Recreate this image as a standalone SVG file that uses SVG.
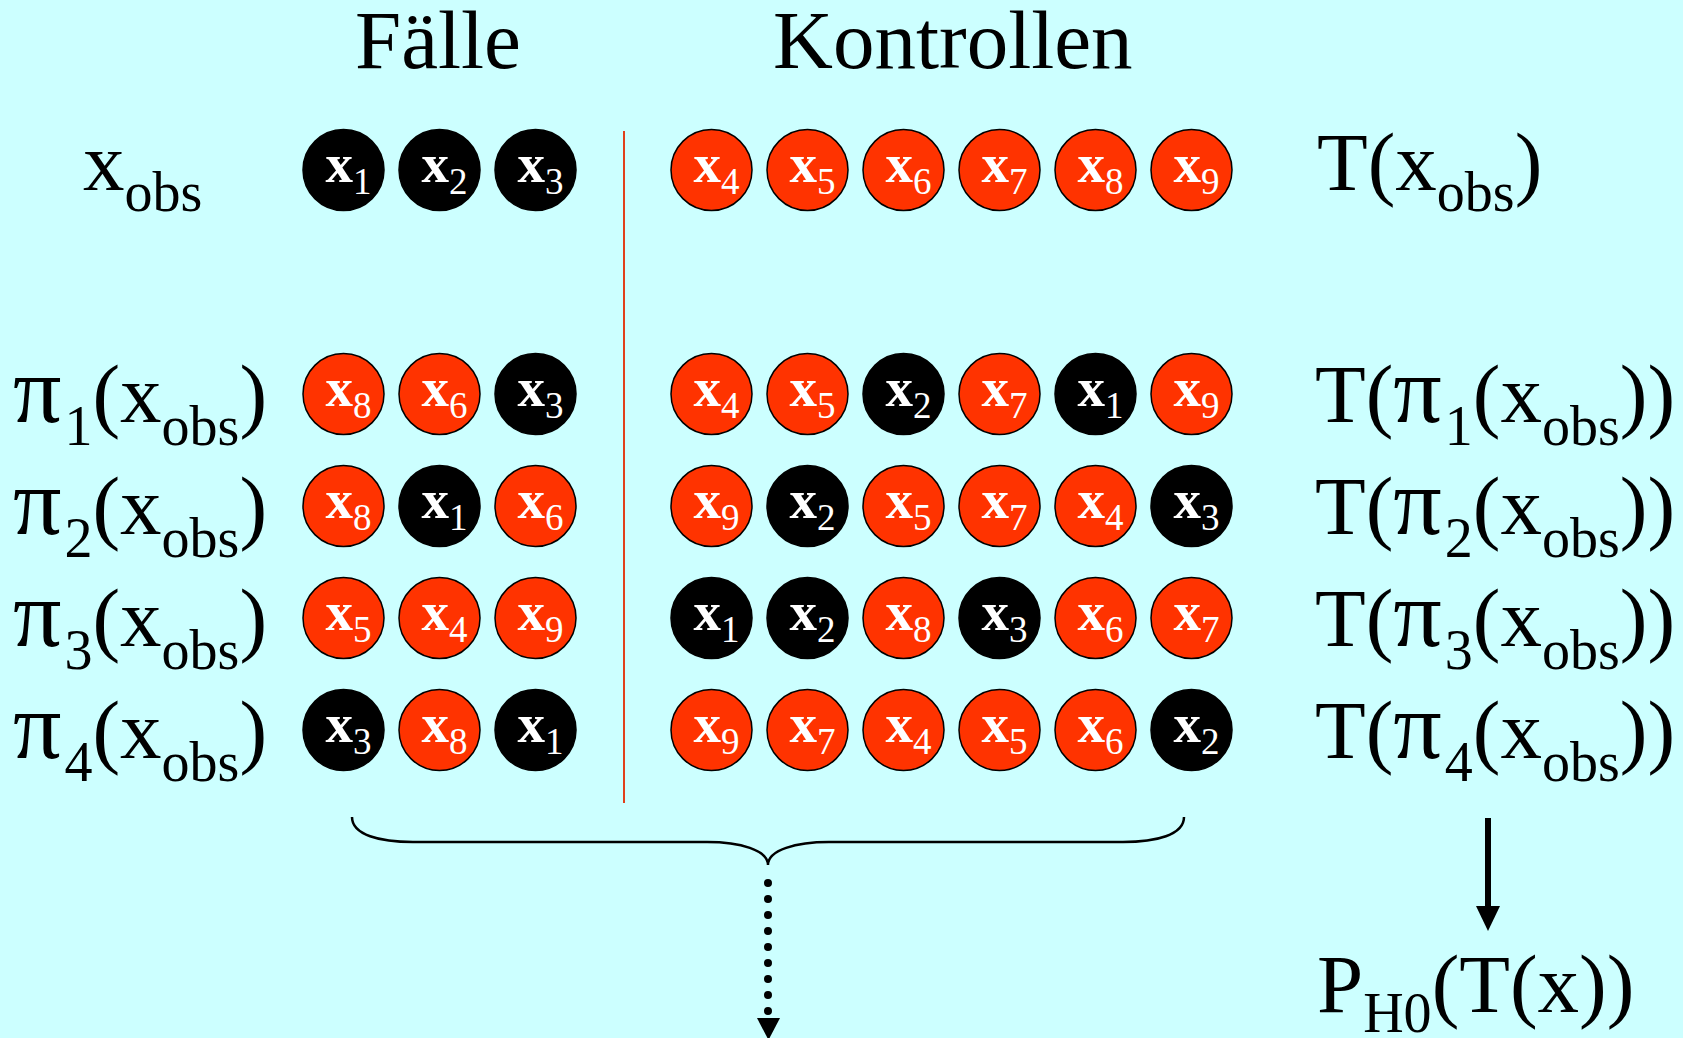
<svg xmlns="http://www.w3.org/2000/svg" width="1683" height="1038" viewBox="0 0 1683 1038">
<defs>
<style>
.bg{fill:#CCFFFF}
.t{font-family:"Liberation Serif","Times New Roman",serif;fill:#000;font-size:83px}
.s{font-size:56px}
.p{font-size:96px}
.cb{fill:#000;stroke:#000;stroke-width:1.5}
.cr{fill:#FF3300;stroke:#000;stroke-width:1.5}
.ct{font-family:"Liberation Serif","Times New Roman",serif;fill:#fff;font-size:55px;font-weight:bold;text-anchor:middle}
.cs{font-size:37px;font-weight:normal}
.ln{stroke:#000;fill:none}
</style>
</defs>
<rect class="bg" x="0" y="0" width="1683" height="1038"/>

<g id="titles">
<text class="t" x="355" y="68">Fälle</text>
<text class="t" x="773" y="68">Kontrollen</text>
</g>

<g id="left-labels">
<text class="t" x="83" y="190">x<tspan class="s" dy="21">obs</tspan></text>
<text class="t" x="13" y="422"><tspan class="p">π</tspan><tspan class="s" dx="3" dy="23">1</tspan><tspan dy="-23">(x</tspan><tspan class="s" dy="23">obs</tspan><tspan dy="-23">)</tspan></text>
<text class="t" x="13" y="534"><tspan class="p">π</tspan><tspan class="s" dx="3" dy="23">2</tspan><tspan dy="-23">(x</tspan><tspan class="s" dy="23">obs</tspan><tspan dy="-23">)</tspan></text>
<text class="t" x="13" y="646"><tspan class="p">π</tspan><tspan class="s" dx="3" dy="23">3</tspan><tspan dy="-23">(x</tspan><tspan class="s" dy="23">obs</tspan><tspan dy="-23">)</tspan></text>
<text class="t" x="13" y="758"><tspan class="p">π</tspan><tspan class="s" dx="3" dy="23">4</tspan><tspan dy="-23">(x</tspan><tspan class="s" dy="23">obs</tspan><tspan dy="-23">)</tspan></text>
</g>

<g id="right-labels">
<text class="t" x="1317" y="190">T(x<tspan class="s" dy="21">obs</tspan><tspan dy="-21">)</tspan></text>
<text class="t" x="1315" y="422">T(<tspan class="p">π</tspan><tspan class="s" dx="3" dy="23">1</tspan><tspan dy="-23">(x</tspan><tspan class="s" dy="23">obs</tspan><tspan dy="-23">))</tspan></text>
<text class="t" x="1315" y="534">T(<tspan class="p">π</tspan><tspan class="s" dx="3" dy="23">2</tspan><tspan dy="-23">(x</tspan><tspan class="s" dy="23">obs</tspan><tspan dy="-23">))</tspan></text>
<text class="t" x="1315" y="646">T(<tspan class="p">π</tspan><tspan class="s" dx="3" dy="23">3</tspan><tspan dy="-23">(x</tspan><tspan class="s" dy="23">obs</tspan><tspan dy="-23">))</tspan></text>
<text class="t" x="1315" y="758">T(<tspan class="p">π</tspan><tspan class="s" dx="3" dy="23">4</tspan><tspan dy="-23">(x</tspan><tspan class="s" dy="23">obs</tspan><tspan dy="-23">))</tspan></text>
<text class="t" x="1317" y="1012">P<tspan class="s" dy="20">H0</tspan><tspan dy="-20">(T(x))</tspan></text>
</g>

<g id="row0">
<g id="r0c1"><circle class="cb" cx="343.5" cy="170" r="40.5"/><text class="ct" x="348.5" y="182">x<tspan class="cs" dy="12">1</tspan></text></g>
<g id="r0c2"><circle class="cb" cx="439.5" cy="170" r="40.5"/><text class="ct" x="444.5" y="182">x<tspan class="cs" dy="12">2</tspan></text></g>
<g id="r0c3"><circle class="cb" cx="535.5" cy="170" r="40.5"/><text class="ct" x="540.5" y="182">x<tspan class="cs" dy="12">3</tspan></text></g>
<g id="r0k1"><circle class="cr" cx="711.5" cy="170" r="40.5"/><text class="ct" x="716.5" y="182">x<tspan class="cs" dy="12">4</tspan></text></g>
<g id="r0k2"><circle class="cr" cx="807.5" cy="170" r="40.5"/><text class="ct" x="812.5" y="182">x<tspan class="cs" dy="12">5</tspan></text></g>
<g id="r0k3"><circle class="cr" cx="903.5" cy="170" r="40.5"/><text class="ct" x="908.5" y="182">x<tspan class="cs" dy="12">6</tspan></text></g>
<g id="r0k4"><circle class="cr" cx="999.5" cy="170" r="40.5"/><text class="ct" x="1004.5" y="182">x<tspan class="cs" dy="12">7</tspan></text></g>
<g id="r0k5"><circle class="cr" cx="1095.5" cy="170" r="40.5"/><text class="ct" x="1100.5" y="182">x<tspan class="cs" dy="12">8</tspan></text></g>
<g id="r0k6"><circle class="cr" cx="1191.5" cy="170" r="40.5"/><text class="ct" x="1196.5" y="182">x<tspan class="cs" dy="12">9</tspan></text></g>
</g>

<g id="row1">
<g id="r1c1"><circle class="cr" cx="343.5" cy="394" r="40.5"/><text class="ct" x="348.5" y="406">x<tspan class="cs" dy="12">8</tspan></text></g>
<g id="r1c2"><circle class="cr" cx="439.5" cy="394" r="40.5"/><text class="ct" x="444.5" y="406">x<tspan class="cs" dy="12">6</tspan></text></g>
<g id="r1c3"><circle class="cb" cx="535.5" cy="394" r="40.5"/><text class="ct" x="540.5" y="406">x<tspan class="cs" dy="12">3</tspan></text></g>
<g id="r1k1"><circle class="cr" cx="711.5" cy="394" r="40.5"/><text class="ct" x="716.5" y="406">x<tspan class="cs" dy="12">4</tspan></text></g>
<g id="r1k2"><circle class="cr" cx="807.5" cy="394" r="40.5"/><text class="ct" x="812.5" y="406">x<tspan class="cs" dy="12">5</tspan></text></g>
<g id="r1k3"><circle class="cb" cx="903.5" cy="394" r="40.5"/><text class="ct" x="908.5" y="406">x<tspan class="cs" dy="12">2</tspan></text></g>
<g id="r1k4"><circle class="cr" cx="999.5" cy="394" r="40.5"/><text class="ct" x="1004.5" y="406">x<tspan class="cs" dy="12">7</tspan></text></g>
<g id="r1k5"><circle class="cb" cx="1095.5" cy="394" r="40.5"/><text class="ct" x="1100.5" y="406">x<tspan class="cs" dy="12">1</tspan></text></g>
<g id="r1k6"><circle class="cr" cx="1191.5" cy="394" r="40.5"/><text class="ct" x="1196.5" y="406">x<tspan class="cs" dy="12">9</tspan></text></g>
</g>

<g id="row2">
<g id="r2c1"><circle class="cr" cx="343.5" cy="506" r="40.5"/><text class="ct" x="348.5" y="518">x<tspan class="cs" dy="12">8</tspan></text></g>
<g id="r2c2"><circle class="cb" cx="439.5" cy="506" r="40.5"/><text class="ct" x="444.5" y="518">x<tspan class="cs" dy="12">1</tspan></text></g>
<g id="r2c3"><circle class="cr" cx="535.5" cy="506" r="40.5"/><text class="ct" x="540.5" y="518">x<tspan class="cs" dy="12">6</tspan></text></g>
<g id="r2k1"><circle class="cr" cx="711.5" cy="506" r="40.5"/><text class="ct" x="716.5" y="518">x<tspan class="cs" dy="12">9</tspan></text></g>
<g id="r2k2"><circle class="cb" cx="807.5" cy="506" r="40.5"/><text class="ct" x="812.5" y="518">x<tspan class="cs" dy="12">2</tspan></text></g>
<g id="r2k3"><circle class="cr" cx="903.5" cy="506" r="40.5"/><text class="ct" x="908.5" y="518">x<tspan class="cs" dy="12">5</tspan></text></g>
<g id="r2k4"><circle class="cr" cx="999.5" cy="506" r="40.5"/><text class="ct" x="1004.5" y="518">x<tspan class="cs" dy="12">7</tspan></text></g>
<g id="r2k5"><circle class="cr" cx="1095.5" cy="506" r="40.5"/><text class="ct" x="1100.5" y="518">x<tspan class="cs" dy="12">4</tspan></text></g>
<g id="r2k6"><circle class="cb" cx="1191.5" cy="506" r="40.5"/><text class="ct" x="1196.5" y="518">x<tspan class="cs" dy="12">3</tspan></text></g>
</g>

<g id="row3">
<g id="r3c1"><circle class="cr" cx="343.5" cy="618" r="40.5"/><text class="ct" x="348.5" y="630">x<tspan class="cs" dy="12">5</tspan></text></g>
<g id="r3c2"><circle class="cr" cx="439.5" cy="618" r="40.5"/><text class="ct" x="444.5" y="630">x<tspan class="cs" dy="12">4</tspan></text></g>
<g id="r3c3"><circle class="cr" cx="535.5" cy="618" r="40.5"/><text class="ct" x="540.5" y="630">x<tspan class="cs" dy="12">9</tspan></text></g>
<g id="r3k1"><circle class="cb" cx="711.5" cy="618" r="40.5"/><text class="ct" x="716.5" y="630">x<tspan class="cs" dy="12">1</tspan></text></g>
<g id="r3k2"><circle class="cb" cx="807.5" cy="618" r="40.5"/><text class="ct" x="812.5" y="630">x<tspan class="cs" dy="12">2</tspan></text></g>
<g id="r3k3"><circle class="cr" cx="903.5" cy="618" r="40.5"/><text class="ct" x="908.5" y="630">x<tspan class="cs" dy="12">8</tspan></text></g>
<g id="r3k4"><circle class="cb" cx="999.5" cy="618" r="40.5"/><text class="ct" x="1004.5" y="630">x<tspan class="cs" dy="12">3</tspan></text></g>
<g id="r3k5"><circle class="cr" cx="1095.5" cy="618" r="40.5"/><text class="ct" x="1100.5" y="630">x<tspan class="cs" dy="12">6</tspan></text></g>
<g id="r3k6"><circle class="cr" cx="1191.5" cy="618" r="40.5"/><text class="ct" x="1196.5" y="630">x<tspan class="cs" dy="12">7</tspan></text></g>
</g>

<g id="row4">
<g id="r4c1"><circle class="cb" cx="343.5" cy="730" r="40.5"/><text class="ct" x="348.5" y="742">x<tspan class="cs" dy="12">3</tspan></text></g>
<g id="r4c2"><circle class="cr" cx="439.5" cy="730" r="40.5"/><text class="ct" x="444.5" y="742">x<tspan class="cs" dy="12">8</tspan></text></g>
<g id="r4c3"><circle class="cb" cx="535.5" cy="730" r="40.5"/><text class="ct" x="540.5" y="742">x<tspan class="cs" dy="12">1</tspan></text></g>
<g id="r4k1"><circle class="cr" cx="711.5" cy="730" r="40.5"/><text class="ct" x="716.5" y="742">x<tspan class="cs" dy="12">9</tspan></text></g>
<g id="r4k2"><circle class="cr" cx="807.5" cy="730" r="40.5"/><text class="ct" x="812.5" y="742">x<tspan class="cs" dy="12">7</tspan></text></g>
<g id="r4k3"><circle class="cr" cx="903.5" cy="730" r="40.5"/><text class="ct" x="908.5" y="742">x<tspan class="cs" dy="12">4</tspan></text></g>
<g id="r4k4"><circle class="cr" cx="999.5" cy="730" r="40.5"/><text class="ct" x="1004.5" y="742">x<tspan class="cs" dy="12">5</tspan></text></g>
<g id="r4k5"><circle class="cr" cx="1095.5" cy="730" r="40.5"/><text class="ct" x="1100.5" y="742">x<tspan class="cs" dy="12">6</tspan></text></g>
<g id="r4k6"><circle class="cb" cx="1191.5" cy="730" r="40.5"/><text class="ct" x="1196.5" y="742">x<tspan class="cs" dy="12">2</tspan></text></g>
</g>

<g id="connectors">
<line x1="624" y1="131" x2="624" y2="803" stroke="#E0401A" stroke-width="2"/>
<path class="ln" stroke-width="2.5" d="M352,817 C352,835 380,842 413,842 L707,842 C740,842 768,850 768,865 C768,850 796,842 829,842 L1123,842 C1156,842 1184,835 1184,817"/>
<line x1="768" y1="883" x2="768" y2="1012" stroke="#000" stroke-width="8" stroke-dasharray="0 16" stroke-linecap="round"/>
<polygon points="757,1018 780,1018 768.5,1040" fill="#000"/>
<line x1="1488" y1="818" x2="1488" y2="910" stroke="#000" stroke-width="6"/>
<polygon points="1476,906 1500,906 1488,931" fill="#000"/>
</g>
</svg>
